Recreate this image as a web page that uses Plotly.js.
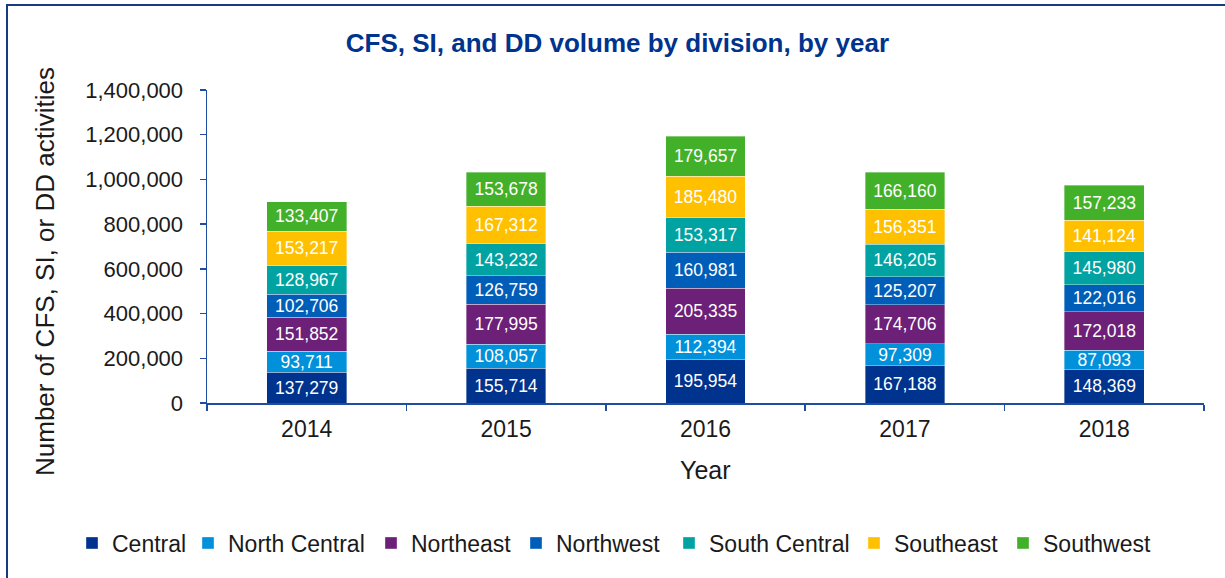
<!DOCTYPE html>
<html><head><meta charset="utf-8">
<script src="https://cdn.plot.ly/plotly-3.0.1.min.js"></script>
<style>
body{margin:0;padding:0;background:#fff;}
#chart{position:absolute;left:0;top:0;width:1225px;height:578px;}
#frame{position:absolute;left:6px;top:4px;width:1219px;height:574px;border-top:2px solid #163C80;border-left:2px solid #163C80;pointer-events:none;box-sizing:border-box;}
</style>
</head><body>
<div id="chart"></div>
<div id="frame"></div>
<script>
const years = ['2014','2015','2016','2017','2018'];
const divisions = ['Central','North Central','Northeast','Northwest','South Central','Southeast','Southwest'];
const central      = [137279,155714,195954,167188,148369];
const northCentral = [93711,108057,112394,97309,87093];
const northeast    = [151852,177995,205335,174706,172018];
const northwest    = [102706,126759,160981,125207,122016];
const southCentral = [128967,143232,153317,146205,145980];
const southeast    = [153217,167312,185480,156351,141124];
const southwest    = [133407,153678,179657,166160,157233];
const yTicks = [0,200000,400000,600000,800000,1000000,1200000,1400000];

const series = [central,northCentral,northeast,northwest,southCentral,southeast,southwest];
const colors = ['#00338D','#0091DA','#6D2077','#005EB8','#00A3A1','#FFC000','#43B02A'];
const FONT = 'Liberation Sans, Arial, sans-serif';
// left edge (px) of each legend entry box, one legend per entry to mimic the reference spacing
const legendLeft = [72,188,371,516,669,854,1003];

const traces = series.map((vals,i)=>({
  type:'bar', name:divisions[i], x:years, y:vals,
  legend: i===0 ? 'legend' : 'legend'+(i+1),
  marker:{color:colors[i], line:{color:'rgba(255,255,255,0.6)', width:0.6}},
  texttemplate:'%{y:,}', textposition:'inside', insidetextanchor:'middle',
  textfont:{family:FONT, size:17.5, color:'#ffffff'}, constraintext:'none',
  hoverinfo:'skip'
}));

const axisColor = '#1F4E9E';
const layout = {
  width:1225, height:578,
  paper_bgcolor:'#ffffff', plot_bgcolor:'#ffffff',
  margin:{l:207, r:21, t:90, b:175},
  barmode:'stack', bargap:0.6,
  font:{family:FONT, color:'#1a1a1a'},
  title:{text:'CFS, SI, and DD volume by division, by year', font:{family:FONT, size:26, color:'#00338D', weight:'bold'},
         x:0.504, xref:'container', xanchor:'center', y:1-43/578, yref:'container', yanchor:'middle'},
  xaxis:{type:'category', showline:true, linecolor:axisColor, linewidth:1.5,
         ticks:'outside', tickson:'boundaries', tickcolor:axisColor, ticklen:6, tickwidth:1.5,
         tickfont:{family:FONT, size:23, color:'#1a1a1a'}, showgrid:false, zeroline:false,
         ticklabelstandoff:5},
  yaxis:{range:[0,1400000], tickvals:yTicks, tickformat:',d', showline:true, linecolor:axisColor, linewidth:1.5,
         ticks:'outside', tickcolor:axisColor, ticklen:6, tickwidth:1.5,
         tickfont:{family:FONT, size:22, color:'#1a1a1a'}, showgrid:false, zeroline:false,
         ticklabelstandoff:12},
  showlegend:true,
  annotations:[
    {text:'Number of CFS, SI, or DD activities', textangle:-90, xref:'paper', yref:'paper',
     x:(45-207)/997, y:(403-272)/313, xanchor:'center', yanchor:'middle', showarrow:false,
     font:{family:FONT, size:26, color:'#1a1a1a'}},
    {text:'Year', xref:'paper', yref:'paper', x:0.4995, y:(403-470)/313, xanchor:'center', yanchor:'middle', showarrow:false,
     font:{family:FONT, size:25, color:'#1a1a1a'}}
  ]
};
legendLeft.forEach((px,i)=>{
  layout[i===0 ? 'legend' : 'legend'+(i+1)] = {
    orientation:'h', xref:'container', yref:'container', x:px/1225, xanchor:'left',
    y:1-543/578, yanchor:'middle', font:{family:FONT, size:23, color:'#1a1a1a'},
    itemwidth:30, bgcolor:'rgba(0,0,0,0)'
  };
});
Plotly.newPlot('chart', traces, layout, {displayModeBar:false, staticPlot:true});
</script>
</body></html>
